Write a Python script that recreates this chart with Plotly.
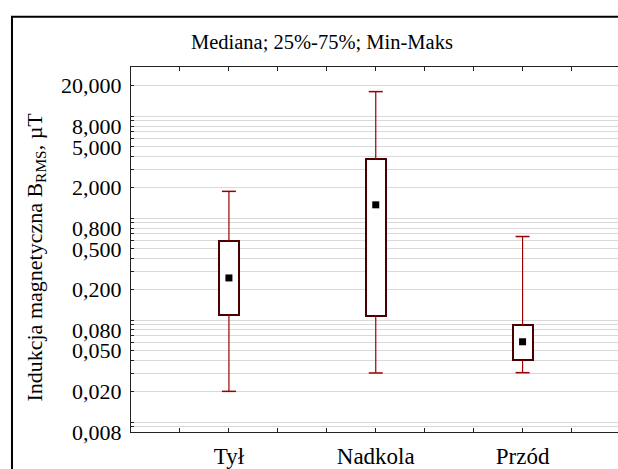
import plotly.graph_objects as go

# Box-plot summary per measurement location (values in µT)
categories = ["Tył", "Nadkola", "Przód"]
minimum = [0.020, 0.0303, 0.0305]
q1 = [0.111, 0.110, 0.0405]
median = [0.259, 1.35, 0.0613]
q3 = [0.596, 3.76, 0.0889]
maximum = [1.83, 17.4, 0.66]

# Labelled ticks on the log axis (decimal comma)
label_values = [0.008, 0.02, 0.05, 0.08, 0.2, 0.5, 0.8, 2, 5, 8, 20]
label_texts = ["0,008", "0,020", "0,050", "0,080", "0,200", "0,500",
               "0,800", "2,000", "5,000", "8,000", "20,000"]

FONT = "Times New Roman, Liberation Serif, DejaVu Serif, serif"
WHISKER = "#9a0000"
BOX_EDGE = "#4a0000"

positions = list(range(len(categories)))

# gridlines at every digit of each decade, labels only on selected values
grid_values = []
for exp in range(-3, 2):
    for d in range(1, 10):
        v = round(d * 10 ** exp, 6)
        if 0.008 <= v <= 30:
            grid_values.append(v)
label_map = {round(v, 6): t for v, t in zip(label_values, label_texts)}
grid_texts = [label_map.get(v, " ") for v in grid_values]

fig = go.Figure()

# interquartile boxes
fig.add_trace(go.Bar(
    x=positions,
    base=q1,
    y=[b - a for a, b in zip(q1, q3)],
    width=0.136,
    marker=dict(color="white", line=dict(color=BOX_EDGE, width=2)),
    hoverinfo="skip",
    showlegend=False,
))

# whiskers from the box edges to min / max
wx, wy = [], []
for p, lo, a, b, hi in zip(positions, minimum, q1, q3, maximum):
    wx += [p, p, None, p, p, None]
    wy += [b, hi, None, lo, a, None]
fig.add_trace(go.Scatter(
    x=wx, y=wy, mode="lines",
    line=dict(color=WHISKER, width=1.2),
    hoverinfo="skip", showlegend=False,
))

# whisker caps
fig.add_trace(go.Scatter(
    x=positions + positions,
    y=maximum + minimum,
    mode="markers",
    marker=dict(symbol="line-ew", size=10, line=dict(color=WHISKER, width=1.5)),
    hoverinfo="skip", showlegend=False,
))

# medians
fig.add_trace(go.Scatter(
    x=positions, y=median, mode="markers",
    marker=dict(symbol="square", size=7, color="black"),
    showlegend=False,
))

fig.update_layout(
    width=618, height=469,
    margin=dict(l=131, r=0, t=67, b=33),
    paper_bgcolor="white", plot_bgcolor="white",
    font=dict(family=FONT, color="black"),
    bargap=0,
    xaxis=dict(
        range=[-0.667, 2.650],
        tickvals=positions, ticktext=categories,
        tickfont=dict(size=23, family=FONT),
        ticks="inside", ticklen=4, tickcolor="#222",
        minor=dict(dtick=1 / 3, tick0=0, ticks="inside", ticklen=4, tickcolor="#222"),
        showline=True, linecolor="#222", linewidth=1.2, mirror="allticks",
        showgrid=False, zeroline=False,
        ticklabelstandoff=3,
    ),
    yaxis=dict(
        type="log",
        range=[-2.0975, 1.482],
        tickvals=grid_values, ticktext=grid_texts,
        tickfont=dict(size=22, family=FONT),
        ticks="inside", ticklen=3, tickcolor="#222",
        showline=True, linecolor="#222", linewidth=1.2,
        showgrid=True, gridcolor="#d9d9d9", gridwidth=1,
        zeroline=False,
        ticklabelstandoff=4,
    ),
    shapes=[dict(
        type="rect", xref="paper", yref="paper",
        x0=-0.2444, x1=1.2, y0=-0.3, y1=1.138,
        line=dict(color="black", width=2), fillcolor="rgba(0,0,0,0)",
        layer="above",
    )],
    annotations=[
        dict(text="Mediana; 25%-75%; Min-Maks", xref="paper", yref="paper",
             x=0.392, y=1.0678, xanchor="center", yanchor="middle",
             showarrow=False, font=dict(size=20.5, family=FONT)),
        dict(text="Indukcja magnetyczna B<sub>RMS</sub>, µT", xref="paper", yref="paper",
             x=-0.197, y=0.478, xanchor="center", yanchor="middle", textangle=-90,
             showarrow=False, font=dict(size=22, family=FONT)),
    ],
)

fig.write_html("out.html")
